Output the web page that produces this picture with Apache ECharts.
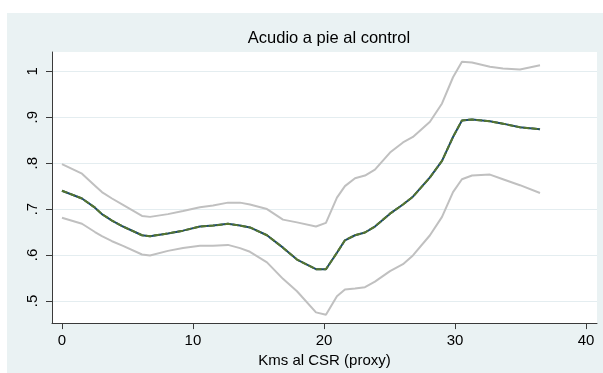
<!DOCTYPE html>
<html>
<head>
<meta charset="utf-8">
<script src="https://cdn.jsdelivr.net/npm/echarts@6/dist/echarts.min.js"></script>
<style>
  html, body { margin: 0; padding: 0; background: #ffffff; }
  #chart { width: 603px; height: 373px; }
</style>
</head>
<body>
<div id="chart"></div>
<script>
// Distance to the health centre (km) at which the local fit is evaluated
const kmValues = [0, 1.53, 2.52, 3.05, 3.82, 4.66, 6.11, 6.72, 8.09, 9.24, 10.53, 11.53, 12.67, 13.59,
  14.35, 15.65, 16.87, 17.94, 19.39, 20.15, 20.99, 21.6, 22.37, 23.13, 23.89, 25.04, 26.03, 26.79,
  28.09, 29.01, 29.85, 30.53, 31.3, 32.67, 33.66, 34.96, 36.49];

// Fitted share walking to the check-up
const fitValues = [0.740, 0.723, 0.703, 0.689, 0.675, 0.662, 0.643, 0.641, 0.647, 0.653, 0.662, 0.664,
  0.668, 0.664, 0.660, 0.643, 0.616, 0.590, 0.569, 0.569, 0.605, 0.632, 0.643, 0.649, 0.662, 0.690,
  0.710, 0.727, 0.769, 0.805, 0.857, 0.893, 0.895, 0.891, 0.886, 0.878, 0.874];

// Upper and lower confidence bounds
const upperValues = [0.798, 0.777, 0.751, 0.737, 0.723, 0.709, 0.685, 0.683, 0.689, 0.696, 0.704, 0.708,
  0.714, 0.714, 0.710, 0.700, 0.677, 0.671, 0.662, 0.670, 0.725, 0.750, 0.767, 0.773, 0.786, 0.823,
  0.845, 0.857, 0.890, 0.930, 0.987, 1.021, 1.019, 1.010, 1.006, 1.004, 1.013];

const lowerValues = [0.681, 0.668, 0.650, 0.641, 0.630, 0.620, 0.601, 0.599, 0.609, 0.615, 0.620, 0.620,
  0.622, 0.615, 0.607, 0.584, 0.548, 0.521, 0.475, 0.470, 0.510, 0.525, 0.527, 0.530, 0.542, 0.565,
  0.580, 0.599, 0.643, 0.683, 0.737, 0.765, 0.773, 0.775, 0.765, 0.752, 0.735];

const xTicks = [0, 10, 20, 30, 40];
const yTicks = [0.5, 0.6, 0.7, 0.8, 0.9, 1];

const titleText = 'Acudio a pie al control';
const xTitle = 'Kms al CSR (proxy)';

const pairs = (ys) => kmValues.map((x, i) => [x, ys[i]]);
const fmtY = (v) => {
  const r = Math.round(v * 10) / 10;
  return r === 1 ? '1' : String(r).replace(/^0/, '');
};

const FONT = 'Liberation Sans, Arial, Helvetica, sans-serif';
const chart = echarts.init(document.getElementById('chart'), null, { renderer: 'canvas' });

chart.setOption({
  animation: false,
  backgroundColor: '#ffffff',
  graphic: [{
    type: 'rect',
    z: -10,
    shape: { x: 7, y: 13, width: 596, height: 360 },
    style: { fill: '#eaf2f3' }
  }],
  title: {
    text: titleText,
    left: 324,
    top: 25,
    textAlign: 'center',
    textStyle: { fontFamily: FONT, fontSize: 16.5, fontWeight: 'normal', color: '#000' }
  },
  grid: {
    left: 52, right: 6, top: 52, bottom: 40,
    show: true, backgroundColor: '#ffffff', borderWidth: 0
  },
  xAxis: {
    type: 'value',
    min: -0.76, max: 40.84,
    name: xTitle,
    nameLocation: 'middle',
    nameGap: 26,
    nameTextStyle: { fontFamily: FONT, fontSize: 15, color: '#000' },
    axisLine: { show: true, onZero: false, lineStyle: { color: '#3a3a3a', width: 1 } },
    axisTick: { show: true, length: 6, customValues: xTicks, lineStyle: { color: '#3a3a3a' } },
    axisLabel: { customValues: xTicks, margin: 10, fontFamily: FONT, fontSize: 15, color: '#000' },
    splitLine: { show: false }
  },
  yAxis: {
    type: 'value',
    min: 0.4517, max: 1.042,
    axisLine: { show: true, onZero: false, lineStyle: { color: '#3a3a3a', width: 1 } },
    axisTick: { show: true, length: 6, customValues: yTicks, lineStyle: { color: '#3a3a3a' } },
    axisLabel: {
      customValues: yTicks, rotate: 90, margin: 12,
      fontFamily: FONT, fontSize: 15, color: '#000', formatter: fmtY
    },
    splitLine: { show: true, lineStyle: { color: '#e4edf0', width: 1.2 } }
  },
  series: [
    {
      type: 'line', data: pairs(upperValues), showSymbol: false, silent: true,
      lineStyle: { color: '#c0c0c0', width: 2 }, z: 2
    },
    {
      type: 'line', data: pairs(lowerValues), showSymbol: false, silent: true,
      lineStyle: { color: '#c0c0c0', width: 2 }, z: 2
    },
    {
      type: 'line', data: pairs(fitValues), showSymbol: false, silent: true,
      lineStyle: { color: '#1a476f', width: 2 }, z: 3
    },
    {
      type: 'line', data: pairs(fitValues), showSymbol: false, silent: true,
      lineStyle: { color: '#55752f', width: 2, type: [6, 2] }, z: 4
    }
  ]
});
</script>
</body>
</html>
